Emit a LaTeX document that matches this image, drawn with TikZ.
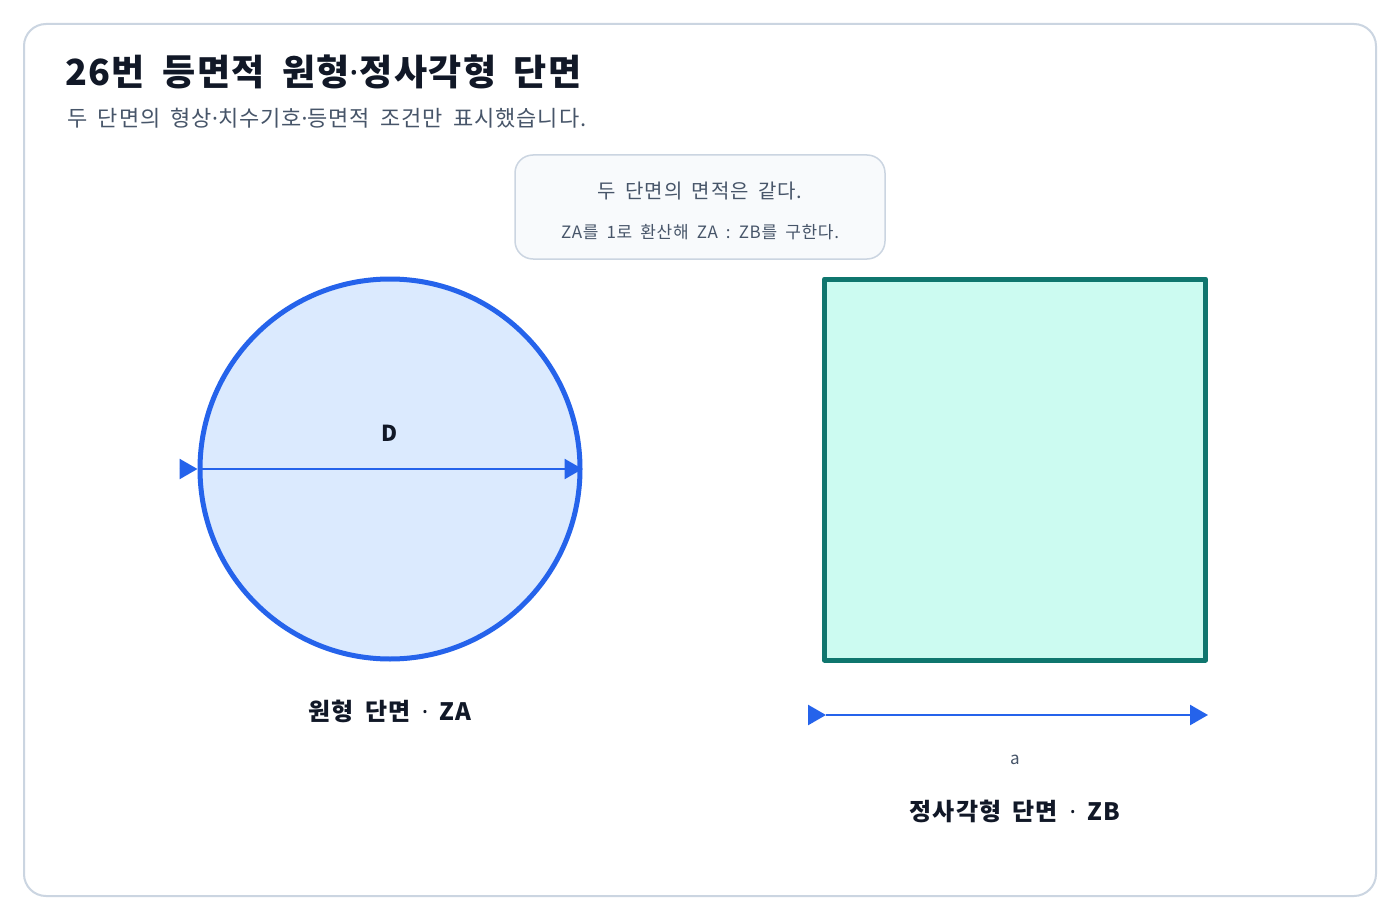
\documentclass[tikz,border=0pt]{standalone}
\usepackage{fontspec}
\setmainfont[LetterSpace=4,WordSpace=1.8]{Noto Sans CJK KR}
\newfontfamily\dotfont{Noto Sans}
\newcommand{\mdot}{{\dotfont\char"00B7}}
\usetikzlibrary{arrows.meta}

\definecolor{ink}{HTML}{111827}
\definecolor{gray}{HTML}{475569}
\definecolor{rim}{HTML}{CBD5E1}
\definecolor{paper}{HTML}{F8FAFC}
\definecolor{blue}{HTML}{2563EB}
\definecolor{lightblue}{HTML}{DBEAFE}
\definecolor{teal}{HTML}{0F766E}
\definecolor{mint}{HTML}{CCFBF1}

\begin{document}
\begin{tikzpicture}[x=1pt,y=-1pt,line join=round,
    frame/.style={draw=rim,line width=2pt,rounded corners=22pt},
    notebox/.style={draw=rim,fill=paper,line width=1.5pt,rounded corners=18pt},
    dim/.style={draw=blue,line width=2.5pt,-{Triangle[length=18pt,width=20pt]}},
    label/.style={font=\bfseries\fontsize{24}{28}\selectfont,text=ink,anchor=base}]
    \useasboundingbox (0,0) rectangle (1400,920);
    \fill[white] (0,0) rectangle (1400,920);
    \draw[frame] (24,24) rectangle (1376,896);
    % title
    \node[anchor=base west,inner sep=0,text=ink,font=\bfseries\fontsize{36}{40}\selectfont] (title) at (65,86) {26번 등면적 원형\mdot 정사각형 단면};
    \node[anchor=base west,inner sep=0,text=gray,font=\fontsize{22}{26}\selectfont] (subtitle) at (67,127) {두 단면의 형상\mdot 치수기호\mdot 등면적 조건만 표시했습니다.};
    % note
    \draw[notebox] (515,155) rectangle (885,259);
    \node[anchor=base,inner sep=0,text=gray,font=\fontsize{20}{24}\selectfont] (noteA) at (700,199) {두 단면의 면적은 같다.};
    \node[anchor=base,inner sep=0,text=gray,font=\fontsize{17}{20}\selectfont] (noteB) at (700,238) {ZA를 1로 환산해 ZA : ZB를 구한다.};
    % sections
    \node[circle,draw=blue,fill=lightblue,line width=5pt,minimum size=380pt,inner sep=0] (circ) at (390,469) {};
    \node[rectangle,draw=teal,fill=mint,line width=5pt,minimum size=381pt,inner sep=0] (sq) at (1015,469.5) {};
    \path (circ.west) coordinate (dl) (circ.east) coordinate (dr)
          (826,715) coordinate (al) (1208,715) coordinate (ar);
    \draw[dim] (dl) -- (dr);
    \draw[dim] (al) -- (ar);
    \foreach \p in {dl,al}
        \draw[dim] (\p) ++(-18,0) -- (\p);
    % labels
    \node[label,font=\bfseries\fontsize{22}{26}\selectfont] (labD) at (390,441) {D};
    \node[label] (labZA) at (390,720) {원형 단면 \mdot\ ZA};
    \node[anchor=base,text=gray,font=\fontsize{17}{20}\selectfont] (laba) at (1015,764) {a};
    \node[label] (labZB) at (1015,820) {정사각형 단면 \mdot\ ZB};
\end{tikzpicture}
\end{document}
